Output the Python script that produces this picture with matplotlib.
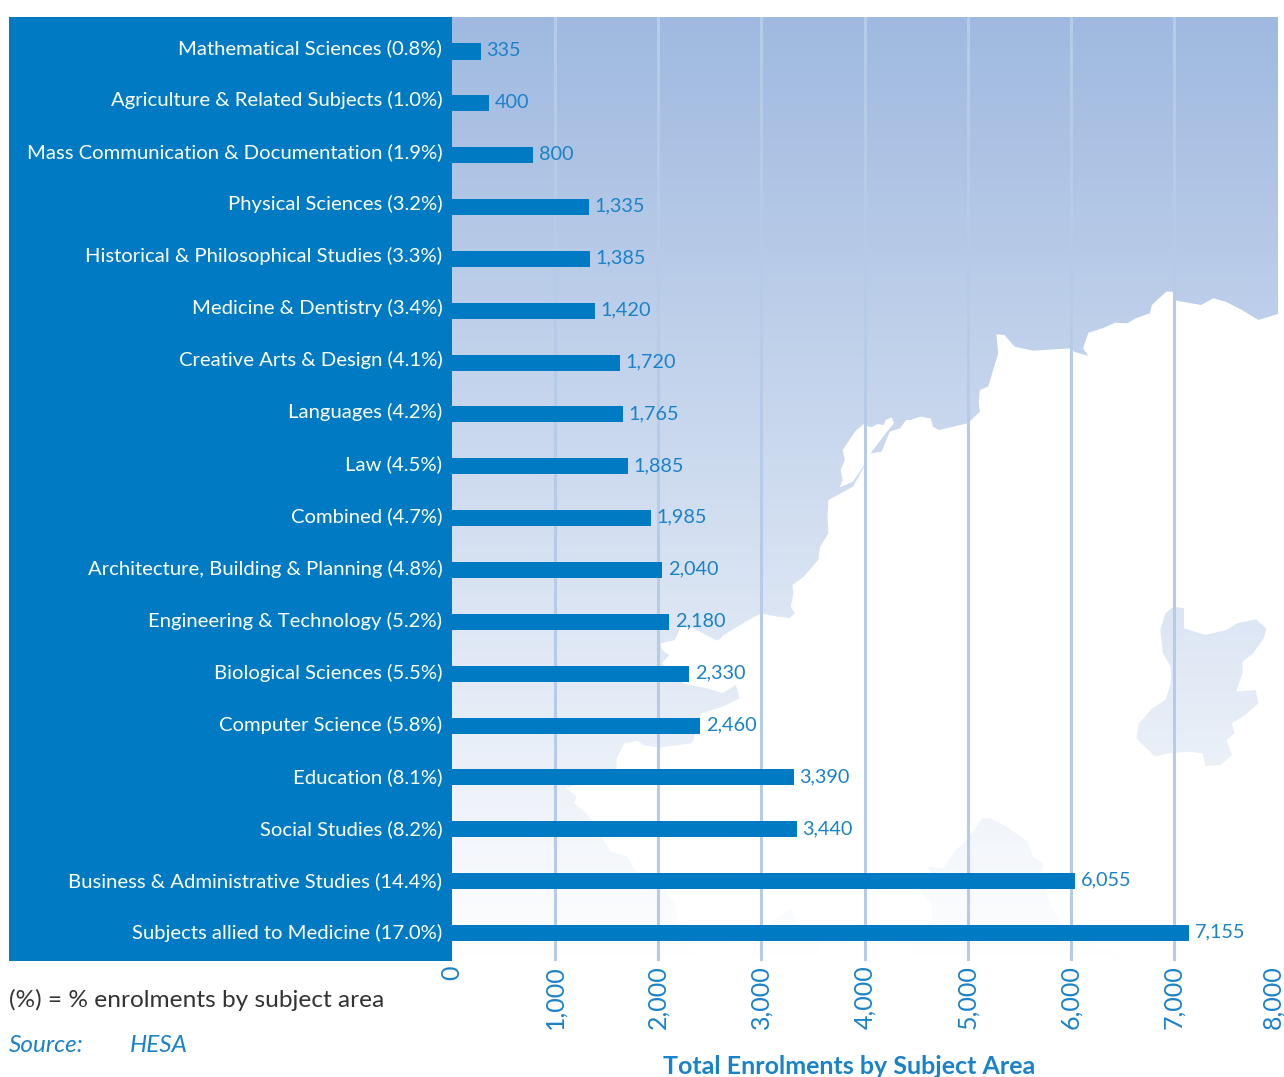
import matplotlib
matplotlib.use('Agg')
import matplotlib.pyplot as plt
import matplotlib.transforms as mtrans
from matplotlib.colors import LinearSegmentedColormap
from matplotlib.patches import PathPatch, Rectangle
from matplotlib.path import Path
import numpy as np

plt.rcParams['font.family'] = ['Lato', 'DejaVu Sans']

subjects = ['Mathematical Sciences (0.8%)', 'Agriculture & Related Subjects (1.0%)',
            'Mass Communication & Documentation (1.9%)', 'Physical Sciences (3.2%)',
            'Historical & Philosophical Studies (3.3%)', 'Medicine & Dentistry (3.4%)',
            'Creative Arts & Design (4.1%)', 'Languages (4.2%)', 'Law (4.5%)',
            'Combined (4.7%)', 'Architecture, Building & Planning (4.8%)',
            'Engineering & Technology (5.2%)', 'Biological Sciences (5.5%)',
            'Computer Science (5.8%)', 'Education (8.1%)', 'Social Studies (8.2%)',
            'Business & Administrative Studies (14.4%)', 'Subjects allied to Medicine (17.0%)']
# printed next to the bars
enrolments = [335, 400, 800, 1335, 1385, 1420, 1720, 1765, 1885,
              1985, 2040, 2180, 2330, 2460, 3390, 3440, 6055, 7155]
# bar ends as read against the axis, they do not quite agree with the printed numbers
bar_lengths = [281, 359, 786, 1329, 1338, 1387, 1629, 1659, 1707,
               1930, 2037, 2105, 2299, 2405, 3317, 3346, 6043, 7148]
x_ticks = [0, 1000, 2000, 3000, 4000, 5000, 6000, 7000, 8000]

# map outlines behind the bars, in zoomed crop pixels
coast_a = [(1563,130),(1510,150),(1470,120),(1430,95),(1400,85),(1370,105),(1310,92),(1300,65),(1285,65),
           (1250,105),(1245,130),(1210,145),(1190,160),(1160,158),(1130,175),(1095,188),(1082,235),(1095,258),
           (1060,245),(1055,235),(1010,238),(960,242),(915,230),(890,195),(870,193),(875,250),(860,310),
           (850,350),(830,360),(827,395),(830,425),(800,460),(730,480),(715,470),(710,445),(685,440),(660,450),
           (650,450),(635,475),(610,485),(590,545),(563,550),(600,490),(620,460),(615,442),(600,450),(595,465),
           (580,462),(565,472),(545,463),(525,485),(495,540),(500,570),(490,600),(495,630),(488,652),(520,635),
           (545,590),(550,585),(520,650),(490,670),(460,690),(458,740),(460,790),(440,830),(435,870),(400,920),
           (372,945),(375,970),(368,1010),(378,1030),(365,1045),(345,1040),(335,1040),(296,1030),(265,1050),
           (235,1072),(205,1095),(190,1112),(170,1100),(130,1075),(100,1070),(85,1110),(50,1120),(55,1145),(45,1180)]
coast_b = [(395,150),(410,165),(395,190),(435,250),(480,265),(510,280),(535,255),(542,295),(510,320),(470,340),
           (455,420),(450,430),(390,443),(360,435),(350,422),(325,430),(310,475),(310,505),(215,565),(235,590),
           (230,610),(250,635),(265,665),(285,720),(300,755),(330,770),(345,810),(400,870),(420,910),(425,960),
           (440,1030),(470,1080)]
island_a = [(1360,20),(1380,25),(1380,85),(1420,105),(1460,90),(1480,70),(1515,58),(1535,85),(1530,115),(1510,160),
            (1490,185),(1490,220),(1478,275),(1515,270),(1520,310),(1495,345),(1470,370),(1475,400),(1460,420),
            (1470,465),(1450,495),(1420,498),(1415,460),(1390,455),(1350,460),(1325,470),(1290,415),(1295,370),
            (1320,325),(1345,300),(1355,250),(1355,200),(1340,160),(1335,90),(1345,40)]
island_b = [(1000,655),(1015,655),(1045,680),(1085,725),(1095,770),(1115,790),(1110,830),(1130,920),(1145,960),
            (1170,1030),(1250,1050),(1265,1080),(860,1080),(870,1030),(905,960),(905,910),(880,870),(910,830),
            (895,800),(925,805),(950,750),(970,720)]
island_c = [(625,940),(640,925),(650,970),(690,1040),(690,1080),(560,1080),(585,990)]


def crop1(pts):
    return [(640 + a / 2.442, 270 + b / 3) for a, b in pts]


def crop2(pts):
    return [(452 + a / 1.885, 600 + b / 3) for a, b in pts]


def closed(pts):
    codes = [Path.MOVETO] + [Path.LINETO] * (len(pts) - 1) + [Path.CLOSEPOLY]
    return list(pts) + [pts[0]], codes


W, H = 1284, 1077
BLUE = '#007bc3'
TEXT_BLUE = '#1a82c8'

fig = plt.figure(figsize=(W / 100, H / 100), dpi=100)

# background layer in pixel coordinates
bg = fig.add_axes([0, 0, 1, 1])
bg.set_xlim(0, W)
bg.set_ylim(H, 0)
bg.axis('off')
bg.add_patch(Rectangle((9, 17), 443, 944, color=BLUE, lw=0, zorder=5))

main = [(1278, 17)] + [(1278, 313)] + crop1(coast_a) + crop2(coast_b) + [(452, 961), (452, 17)]
verts, codes = [], []
for shape in [main, crop2(island_a), crop2(island_b), crop2(island_c)]:
    v, c = closed(shape)
    verts += v
    codes += c
grad = LinearSegmentedColormap.from_list('sea', ['#9fb9e0', '#ffffff'])
img = bg.imshow(np.linspace(0, 1, 256).reshape(-1, 1), cmap=grad, aspect='auto',
                extent=(452, 1278, 961, 17), zorder=1)
patch = PathPatch(Path(verts, codes), transform=bg.transData, fc='none', ec='none')
bg.add_patch(patch)
img.set_clip_path(patch)
bg.set_xlim(0, W)
bg.set_ylim(H, 0)

# chart
ax = fig.add_axes([452 / W, 1 - 961 / H, 825 / W, 944 / H])
ax.patch.set_alpha(0)
y = np.arange(len(subjects))
ax.set_xlim(0, 8000)
ax.set_ylim(17.54, -0.665)
ax.barh(y, bar_lengths, height=0.31, color=BLUE, zorder=3)
for v in x_ticks[1:-1]:
    ax.axvline(v, color='#b6cbe8', lw=2.2, zorder=1)
for s in ax.spines.values():
    s.set_visible(False)

ax.set_yticks(y)
ax.set_yticklabels(subjects, color='white', fontsize=14.6)
# tick_params resets the label transforms so it has to come first
ax.tick_params(axis='y', length=0, pad=7)
# the labels are spaced a little wider than the bars
for i, t in enumerate(ax.get_yticklabels()):
    up = mtrans.ScaledTranslation(0, (5 - 0.2 * i) / 100, fig.dpi_scale_trans)
    t.set_transform(t.get_transform() + up)

ax.set_xticks(x_ticks)
ax.set_xticklabels(['{:,}'.format(v) for v in x_ticks], rotation=90, color=TEXT_BLUE, fontsize=18)
ax.tick_params(axis='x', length=0, pad=3)
last = ax.get_xticklabels()[-1]
last.set_transform(last.get_transform() + mtrans.ScaledTranslation(-4 / 100, 0, fig.dpi_scale_trans))

for i, v in enumerate(enrolments):
    ax.annotate('{:,}'.format(v), (bar_lengths[i], i), xytext=(4, 0.6), textcoords='offset points',
                color=TEXT_BLUE, fontsize=14.3, va='center', ha='left', zorder=4)

fig.text(849 / W, 1 - 1066 / H, 'Total Enrolments by Subject Area', color=TEXT_BLUE,
         fontsize=18, fontweight='bold', ha='center', va='center')
fig.text(9 / W, 1 - 1000 / H, '(%) = % enrolments by subject area', color='#333333',
         fontsize=17.6, ha='left', va='center')
fig.text(9 / W, 1 - 1045 / H, 'Source:', color=TEXT_BLUE, fontsize=17.5, style='italic', ha='left', va='center')
fig.text(130 / W, 1 - 1045 / H, 'HESA', color=TEXT_BLUE, fontsize=17.5, style='italic', ha='left', va='center')

fig.savefig('out.png', dpi=100)
